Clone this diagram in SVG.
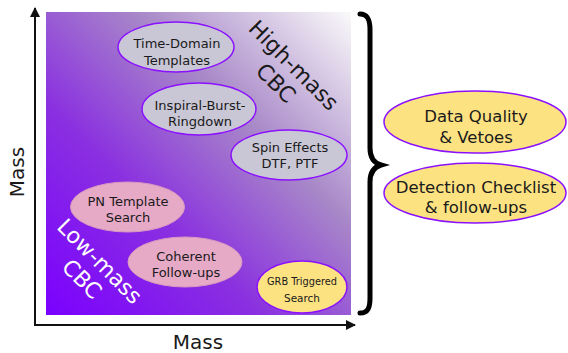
<svg xmlns="http://www.w3.org/2000/svg" width="568" height="353" viewBox="0 0 568 353">
<style>
text{font-family:"DejaVu Sans","Liberation Sans",sans-serif;fill:#1a1a1a;text-anchor:middle}
.grey{fill:#c9c7d6;stroke:#8a10ff;stroke-width:1.5}
.pink{fill:#e6a9c6;stroke:#d99ac0;stroke-width:1}
.yellow{fill:#fde282;stroke:#8a10ff;stroke-width:1.5}
.t13{font-size:13px}
.t16{font-size:16.5px}
.big{font-size:22px}
.axis{stroke:#111;stroke-width:2;fill:none}
</style>
<defs>
<linearGradient id="bg" x1="0" y1="1" x2="1" y2="0">
<stop offset="0" stop-color="#7a00ff"/>
<stop offset="0.35" stop-color="#8a30e0"/>
<stop offset="0.65" stop-color="#a888c8"/>
<stop offset="1" stop-color="#fafafa"/>
</linearGradient>
<marker id="arr" viewBox="0 0 10 10" refX="9" refY="5" markerWidth="5" markerHeight="5" orient="auto" markerUnits="strokeWidth">
<path d="M0,0 L10,5 L0,10 z" fill="#111"/>
</marker>
</defs>
<rect id="plot" x="46" y="12" width="305" height="303" fill="url(#bg)"/>
<g id="connectors">
<path class="axis" d="M35,325 L35,8" marker-end="url(#arr)"/>
<path class="axis" d="M34,325 L355,325" marker-end="url(#arr)"/>
<path id="brace" d="M360,14 C368,14 370,20 370,30 L370,148 C370,158 374,163 381,165 C374,167 370,172 370,182 L370,298 C370,308 368,313 360,313" fill="none" stroke="#000" stroke-width="5" stroke-linecap="round"/>
</g>
<g id="axis-labels">
<text x="198" y="349" style="font-size:20px">Mass</text>
<text transform="translate(24,172) rotate(-90)" style="font-size:20px">Mass</text>
</g>
<g id="high-mass-label" transform="translate(294,65) rotate(45)">
<text class="big" y="8">High-mass</text>
<text class="big" y="33">CBC</text>
</g>
<g id="low-mass-label" transform="translate(100,261) rotate(45)">
<text class="big" y="8" style="fill:#fff">Low-mass</text>
<text class="big" y="33" style="fill:#fff">CBC</text>
</g>
<g id="time-domain">
<ellipse class="grey" cx="176" cy="47" rx="58" ry="25"/>
<text class="t13" x="177" y="48">Time-Domain</text>
<text class="t13" x="177" y="65">Templates</text>
</g>
<g id="ibr">
<ellipse class="grey" cx="199" cy="109" rx="57" ry="26"/>
<text class="t13" x="200" y="110">Inspiral-Burst-</text>
<text class="t13" x="200" y="126">Ringdown</text>
</g>
<g id="spin">
<ellipse class="grey" cx="289" cy="155" rx="58" ry="25"/>
<text class="t13" x="290" y="152">Spin Effects</text>
<text class="t13" x="290" y="168">DTF, PTF</text>
</g>
<g id="pn">
<ellipse class="pink" cx="127.5" cy="207" rx="57" ry="25"/>
<text class="t13" x="128" y="206">PN Template</text>
<text class="t13" x="128" y="222">Search</text>
</g>
<g id="coherent">
<ellipse class="pink" cx="185" cy="262" rx="57" ry="25"/>
<text class="t13" x="186" y="261">Coherent</text>
<text class="t13" x="186" y="277">Follow-ups</text>
</g>
<g id="grb">
<ellipse class="yellow" cx="302" cy="287" rx="45" ry="26"/>
<text x="302" y="285" style="font-size:11px" textLength="70" lengthAdjust="spacingAndGlyphs">GRB Triggered</text>
<text x="302" y="302" style="font-size:11px" textLength="36" lengthAdjust="spacingAndGlyphs">Search</text>
</g>
<g id="data-quality">
<ellipse class="yellow" cx="475" cy="122" rx="91" ry="31"/>
<text class="t16" x="476" y="122">Data Quality</text>
<text class="t16" x="476" y="143">&amp; Vetoes</text>
</g>
<g id="detection">
<ellipse class="yellow" cx="475" cy="193" rx="91" ry="30"/>
<text class="t16" x="476" y="193">Detection Checklist</text>
<text class="t16" x="476" y="213">&amp; follow-ups</text>
</g>
</svg>
